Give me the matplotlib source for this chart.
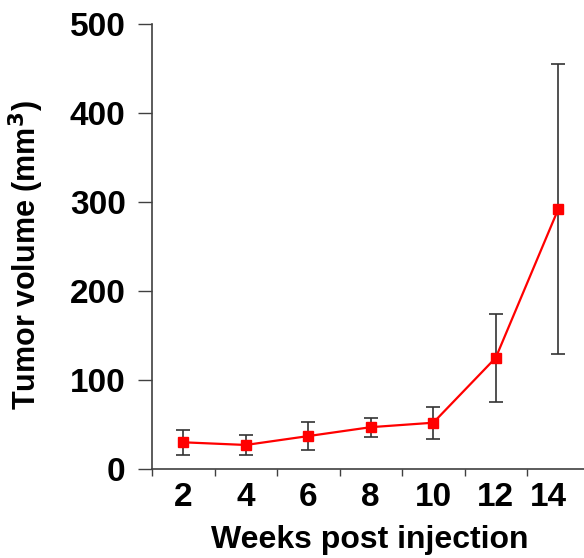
import matplotlib
matplotlib.use("Agg")
import matplotlib.pyplot as plt
from matplotlib.transforms import ScaledTranslation
import numpy as np

weeks = ["2", "4", "6", "8", "10", "12", "14"]
volume = [30, 27, 37, 47, 52, 125, 292]
err = [14, 11, 15.5, 10.5, 18, 49.5, 163]

plt.rcParams['font.family'] = ['Liberation Sans', 'DejaVu Sans']
plt.rcParams['font.weight'] = 'bold'

fig = plt.figure(figsize=(5.84, 5.58), dpi=100)
ax = fig.add_axes([152 / 584, 1 - 469 / 558, 437.5 / 584, 445 / 558])

x = np.arange(len(weeks))
ax.errorbar(x, volume, yerr=err, fmt='none', ecolor='#333333', elinewidth=1.2,
            capsize=5, capthick=1.2, zorder=2)
ax.plot(x, volume, color='#ff0000', lw=1.6, marker='s', ms=7, zorder=3)

ax.set_xlim(-0.5, len(weeks) - 0.5)
ax.set_ylim(0, 500)
ax.set_yticks([0, 100, 200, 300, 400, 500])

# category labels centred, tick marks between categories
ax.set_xticks(x)
ax.set_xticklabels(weeks)
ax.tick_params(axis='x', which='major', length=0, pad=9, labelsize=24)
ax.set_xticks(np.arange(-0.5, len(weeks), 1), minor=True)
ax.tick_params(axis='x', which='minor', length=5, width=1, color='#404040', direction='out')
ax.tick_params(axis='y', length=10, width=1, color='#404040', labelsize=24, pad=9)

for sp in ['top', 'right']:
    ax.spines[sp].set_visible(False)
for sp in ['left', 'bottom']:
    ax.spines[sp].set_color('#404040')
    ax.spines[sp].set_linewidth(1.2)

last = ax.get_xticklabels()[-1]
last.set_transform(last.get_transform() + ScaledTranslation(-10 / 100, 0, fig.dpi_scale_trans))

ax.set_xlabel("Weeks post injection", fontsize=23, fontweight='bold')
ax.xaxis.set_label_coords(0.498, -0.125)
ax.set_ylabel("Tumor volume (mm$^\\mathbf{3}$)", fontsize=22, fontweight='bold')
ax.yaxis.set_label_coords(-0.242, 0.481)

fig.savefig("out.png", dpi=100)
